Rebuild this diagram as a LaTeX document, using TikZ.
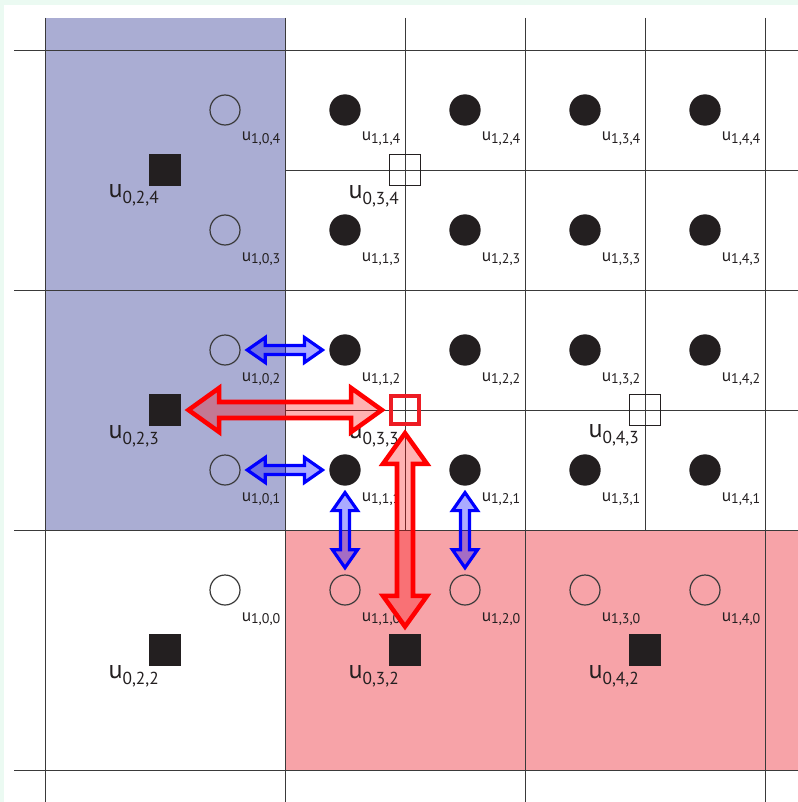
\documentclass[tikz,border=0pt]{standalone}
\usepackage{fontspec}
\setmainfont{PT Sans}
\usetikzlibrary{calc}
\definecolor{mint}{HTML}{EBFAF2}
\definecolor{bluereg}{HTML}{AAADD3}
\definecolor{pinkreg}{HTML}{F7A3A8}
\definecolor{ink}{HTML}{231F20}
\definecolor{gridc}{HTML}{3A3A3A}
\definecolor{sqred}{HTML}{ED1C24}
\newcommand\finelab[1]{{\fontsize{13}{15}\selectfont u}\raisebox{-2pt}{\fontsize{10.5}{12}\selectfont #1}}
\newcommand\coarselab[1]{{\fontsize{19.5}{21}\selectfont u}\raisebox{-4.5pt}{\fontsize{13}{15}\selectfont #1}}
% #1 style, #2 from, #3 to, #4 gap, #5 head length, #6 head half width, #7 shaft half width
\newcommand\blockarrow[7]{%
  \coordinate (ba-a) at ($(#2)!#4!(#3)$);
  \coordinate (ba-b) at ($(#3)!#4!(#2)$);
  \draw[#1] (ba-a)
    -- ($(ba-a)!#5!(ba-b)!#6!90:(ba-b)$)
    -- ($(ba-a)!#5!(ba-b)!#7!90:(ba-b)$)
    -- ($(ba-b)!#5!(ba-a)!#7!-90:(ba-a)$)
    -- ($(ba-b)!#5!(ba-a)!#6!-90:(ba-a)$)
    -- (ba-b)
    -- ($(ba-b)!#5!(ba-a)!#6!90:(ba-a)$)
    -- ($(ba-b)!#5!(ba-a)!#7!90:(ba-a)$)
    -- ($(ba-a)!#5!(ba-b)!#7!-90:(ba-b)$)
    -- ($(ba-a)!#5!(ba-b)!#6!-90:(ba-b)$)
    -- cycle;}
\tikzset{
  gridl/.style={draw=gridc, line width=0.7pt},
  opendot/.style={circle, draw=gridc, line width=0.9pt, minimum size=22.5pt, inner sep=0pt},
  fulldot/.style={circle, fill=ink, minimum size=23.5pt, inner sep=0pt},
  fullsq/.style={rectangle, fill=ink, minimum size=24pt, inner sep=0pt},
  opensq/.style={rectangle, draw=ink, line width=0.8pt, minimum size=23.5pt, inner sep=0pt},
  redsq/.style={rectangle, draw=sqred, line width=3pt, minimum size=21pt, inner sep=0pt},
  flab/.style={anchor=base west, inner sep=0pt, text=ink},
  clab/.style={anchor=base east, inner sep=0pt, text=ink},
  bluearr/.style={draw=blue, line width=2.4pt, fill=blue, fill opacity=0.33},
  redarr/.style={draw=red, line width=3.4pt, fill=red, fill opacity=0.3}
}
\begin{document}
\begin{tikzpicture}[x=0.75pt,y=-0.75pt]
\useasboundingbox (0,0) rectangle (798,802);
\fill[mint] (0,0) rectangle (798,802);
\fill[white] (4,5) rectangle (798,802);
\fill[bluereg] (45,18) rectangle (285,530);
\fill[pinkreg] (285,530) rectangle (798,770);
% grid
\foreach \y in {50,290,530,770} \draw[gridl] (14,\y) -- (798,\y);
\foreach \y in {170,410} \draw[gridl] (285,\y) -- (798,\y);
\foreach \x in {45,285,525,765} \draw[gridl] (\x,18) -- (\x,802);
\foreach \x in {405,645} \draw[gridl] (\x,18) -- (\x,530);
% fine points
\foreach \i in {0,...,4}{
  \foreach \j in {0,...,4}{
    \pgfmathsetmacro\xx{225+120*\i}
    \pgfmathsetmacro\yy{590-120*\j}
    \ifnum\i=0 \def\st{opendot}\else\ifnum\j=0 \def\st{opendot}\else\def\st{fulldot}\fi\fi
    \node[\st] (c\i\j) at (\xx,\yy) {};
    \node[flab] (l\i\j) at ($(c\i\j)+(16.5,31)$) {\finelab{1,\i,\j}};
  }
}
% coarse points
\node[fullsq] (s024) at (165,170) {};
\node[fullsq] (s023) at (165,410) {};
\node[fullsq] (s022) at (165,650) {};
\node[fullsq] (s032) at (405,650) {};
\node[fullsq] (s042) at (645,650) {};
\node[opensq] (s034) at (405,170) {};
\node[opensq] (s043) at (645,410) {};
\node[redsq]  (s033) at (405,410) {};
\node[clab] (m024) at ($(s024)+(-6,28)$) {\coarselab{0,2,4}};
\node[clab] (m023) at ($(s023)+(-6,28)$) {\coarselab{0,2,3}};
\node[clab] (m022) at ($(s022)+(-6,28)$) {\coarselab{0,2,2}};
\node[clab] (m032) at ($(s032)+(-6,28)$) {\coarselab{0,3,2}};
\node[clab] (m042) at ($(s042)+(-6,28)$) {\coarselab{0,4,2}};
\node[clab] (m034) at ($(s034)+(-6,29)$) {\coarselab{0,3,4}};
\node[clab] (m043) at ($(s043)+(-6,27)$) {\coarselab{0,4,3}};
\node[clab] (m033) at ($(s033)+(-6,28)$) {\coarselab{0,3,3}};
% blue arrows
\blockarrow{bluearr}{c02.east}{c12.west}{5pt}{13.5pt}{9.4pt}{3.4pt}
\blockarrow{bluearr}{c01.east}{c11.west}{5pt}{13.5pt}{9.4pt}{3.4pt}
\blockarrow{bluearr}{c11.south}{c10.north}{5pt}{13.5pt}{9.4pt}{3.4pt}
\blockarrow{bluearr}{c21.south}{c20.north}{5pt}{13.5pt}{9.4pt}{3.4pt}
% red arrows
\blockarrow{redarr}{s023.east}{s033.west}{5.4pt}{23pt}{16.5pt}{6pt}
\blockarrow{redarr}{s033.south}{s032.north}{5.4pt}{23pt}{16.5pt}{6pt}
\end{tikzpicture}
\end{document}
